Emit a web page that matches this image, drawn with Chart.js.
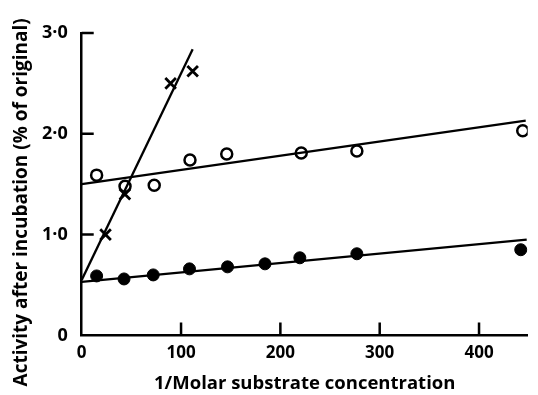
<!DOCTYPE html>
<html>
<head>
<meta charset="utf-8">
<script src="https://cdn.jsdelivr.net/npm/chart.js@4/dist/chart.umd.min.js"></script>
<style>
  html, body { margin: 0; padding: 0; background: #fff; }
  #wrap { width: 538px; height: 395px; position: relative; }
</style>
</head>
<body>
<div id="wrap"><canvas id="chart"></canvas></div>
<script>
// measured points (x = 1/molar substrate conc., y = activity %)
const crossX = [24, 43.5, 89.5, 111.7];
const crossY = [1.0, 1.40, 2.50, 2.62];
const openX = [15, 43.6, 73, 109, 146, 221, 277, 444];
const openY = [1.59, 1.48, 1.49, 1.74, 1.80, 1.81, 1.83, 2.03];
const filledX = [15, 42.6, 72, 108.5, 146.8, 184.5, 219.6, 277, 442];
const filledY = [0.59, 0.56, 0.60, 0.66, 0.68, 0.71, 0.77, 0.81, 0.85];

// fitted lines, end points
const crossFitX = [0, 111.7];
const crossFitY = [0.55, 2.84];
const openFitX = [0, 447];
const openFitY = [1.50, 2.13];
const filledFitX = [0, 448];
const filledFitY = [0.53, 0.95];

const xTicks = [0, 100, 200, 300, 400];
const yTicks = [0, 1, 2, 3];
const yTickLabels = ['0', '1·0', '2·0', '3·0'];
const yTitle = 'Activity after incubation (% of original)';

const pts = (xs, ys) => xs.map((x, i) => ({ x: x, y: ys[i] }));

const FONT = '"Open Sans", "DejaVu Sans", sans-serif';

// tick marks drawn inward from the axes, plus the y title
// (the title sits a bit lower than the plot centre in the original)
const inwardTicks = {
    id: 'inwardTicks',
    afterDraw(chart) {
        const c = chart.ctx, xs = chart.scales.x, ys = chart.scales.y;
        const x0 = xs.getPixelForValue(0), y0 = ys.getPixelForValue(0);
        c.save();
        c.strokeStyle = '#000';
        c.lineWidth = 2.5;
        c.beginPath();
        xTicks.forEach(v => {
            if (v === 0) return;
            const px = xs.getPixelForValue(v);
            c.moveTo(px, y0);
            c.lineTo(px, y0 - 13);
        });
        yTicks.forEach(v => {
            if (v === 0) return;
            const py = ys.getPixelForValue(v);
            c.moveTo(x0, py);
            c.lineTo(x0 + 12, py);
        });
        c.stroke();

        c.translate(22, ys.getPixelForValue(1.32));
        c.rotate(-Math.PI / 2);
        c.fillStyle = '#000';
        c.font = 'bold 19px ' + FONT;
        c.textAlign = 'center';
        c.textBaseline = 'middle';
        c.fillText(yTitle, 0, 0);
        c.restore();
    }
};

const ctx = document.getElementById('chart');
new Chart(ctx, {
    type: 'scatter',
    data: {
        datasets: [
            { data: pts(crossFitX, crossFitY), showLine: true, borderColor: '#000', borderWidth: 2.3, pointRadius: 0 },
            { data: pts(openFitX, openFitY), showLine: true, borderColor: '#000', borderWidth: 2.3, pointRadius: 0 },
            { data: pts(filledFitX, filledFitY), showLine: true, borderColor: '#000', borderWidth: 2.3, pointRadius: 0 },
            { data: pts(crossX, crossY), pointStyle: 'crossRot', pointRadius: 7.5, borderColor: '#000', borderWidth: 2.8 },
            { data: pts(openX, openY), pointStyle: 'circle', pointRadius: 5.5, borderColor: '#000', backgroundColor: '#fff', borderWidth: 2.5 },
            { data: pts(filledX, filledY), pointStyle: 'circle', pointRadius: 6, borderColor: '#000', backgroundColor: '#000', borderWidth: 1 }
        ]
    },
    options: {
        responsive: true,
        maintainAspectRatio: false,
        animation: false,
        layout: { padding: { top: 33, right: 1, left: 28, bottom: 0 } },
        plugins: {
            legend: { display: false },
            tooltip: { enabled: false }
        },
        scales: {
            x: {
                type: 'linear',
                min: 0,
                max: 449,
                afterBuildTicks: s => { s.ticks = xTicks.map(v => ({ value: v })); },
                grid: { display: false, drawTicks: false },
                border: { display: true, color: '#000', width: 2.5 },
                ticks: { color: '#000', padding: 8, font: { family: FONT, size: 17, weight: 'bold' } },
                title: {
                    display: true,
                    text: '1/Molar substrate concentration',
                    color: '#000',
                    padding: { top: 1, bottom: 0 },
                    font: { family: FONT, size: 18.5, weight: 'bold' }
                }
            },
            y: {
                type: 'linear',
                min: 0,
                max: 3,
                afterBuildTicks: s => { s.ticks = yTicks.map(v => ({ value: v })); },
                grid: { display: false, drawTicks: false },
                border: { display: true, color: '#000', width: 2.5 },
                ticks: {
                    color: '#000',
                    padding: 14,
                    font: { family: FONT, size: 18, weight: 'bold' },
                    callback: v => yTickLabels[yTicks.indexOf(v)]
                },
                title: { display: false }
            }
        }
    },
    plugins: [inwardTicks]
});
</script>
</body>
</html>
